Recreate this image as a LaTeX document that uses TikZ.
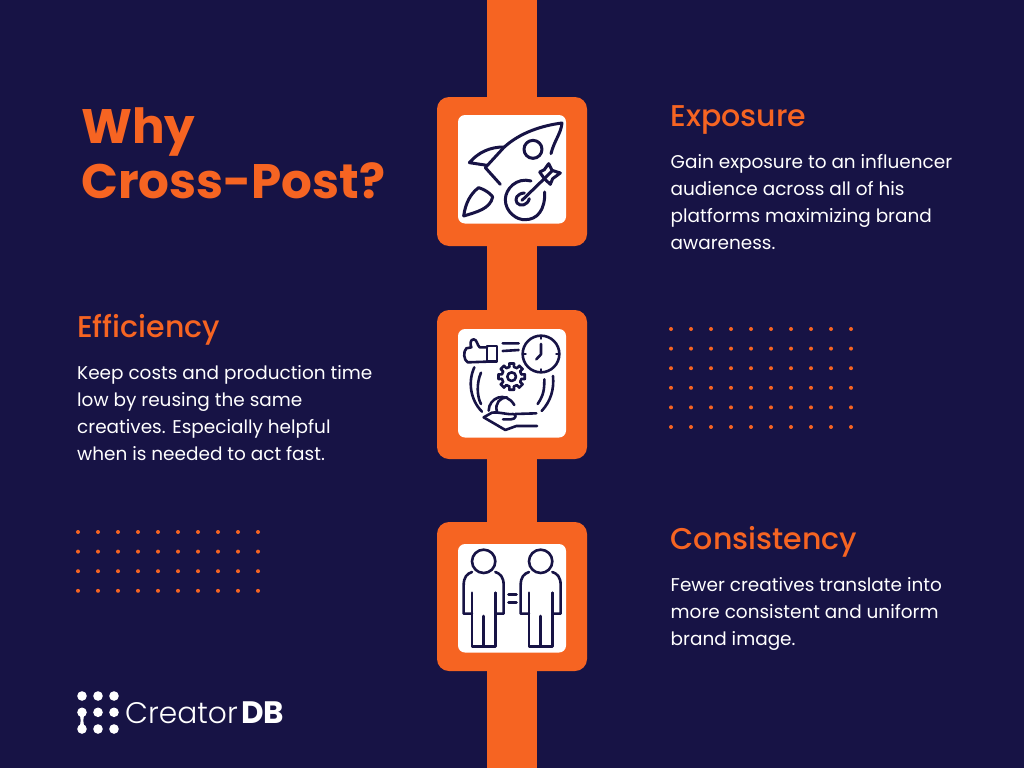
\documentclass[tikz,border=0pt]{standalone}
\usepackage{fontspec}
\usetikzlibrary{calc}
\setmainfont{Poppins}
\newfontfamily\logolight{Poppins Light}
\newfontfamily\headfont{Poppins Medium}
\definecolor{navy}{HTML}{171345}
\definecolor{brand}{HTML}{F66422}
\tikzset{
  x=1pt,y=-1pt,
  panel/.style={fill=brand,rounded corners=12pt},
  tile/.style={fill=white,rounded corners=7pt},
  icon/.style={draw=navy,line width=3pt,line cap=round,line join=round},
  heading/.style={anchor=base west,inner sep=0pt,text=brand,font=\headfont\fontsize{30}{32}\selectfont},
  body/.style={anchor=north west,inner sep=0pt,text=white,align=left,font=\fontsize{18.45}{27}\selectfont},
  title/.style={anchor=north west,inner sep=0pt,text=brand,align=left,font=\bfseries\fontsize{48.4}{55}\selectfont},
}
\newcommand{\dotgrid}[3]{% x0,y0,rows
  \foreach \r in {1,...,#3}{\foreach \c in {0,...,9}{
    \fill[brand] ({#1+\c*20},{#2+(\r-1)*19.6}) circle (2);}}}
\begin{document}
\begin{tikzpicture}
\useasboundingbox (0,0) rectangle (1024,768);
\fill[navy] (0,0) rectangle (1024,768);
\fill[brand] (487,0) rectangle (537,768);
\foreach \y/\t in {97/115,310/329,522/544}{
  \fill[panel] (437,\y) rectangle (587,\y+149);
  \fill[tile] (458,\t) rectangle (566,\t+108.5);
}
% rocket
\begin{scope}[shift={(437,97)},x=0.3333pt,y=-0.3333pt]
  \draw[icon] (342,170) .. controls (352,130) and (372,110) .. (375,78) .. controls (320,85) and (250,105) .. (200,152) -- (145,212) -- (190,262);
  \draw[icon] (200,150) .. controls (160,150) and (125,165) .. (97,197) -- (150,205);
  \draw[icon] (288,157) circle (27);
  \draw[icon] (80,357) .. controls (85,320) and (100,290) .. (125,272) .. controls (150,280) and (165,295) .. (167,300) .. controls (160,335) and (120,345) .. (80,357);
  \draw[icon] (282,252) .. controls (240,240) and (205,275) .. (205,308) .. controls (205,345) and (240,370) .. (265,368) .. controls (300,368) and (325,340) .. (323,285);
  \draw[icon] (262,288) .. controls (240,290) and (232,305) .. (240,318) .. controls (250,330) and (272,325) .. (277,305);
  \draw[icon] (255,310) -- (322,245);
  \draw[icon] (308,225) -- (322,245) -- (340,262) -- (347,245) -- (370,228) -- (345,220) -- (335,200) -- (322,218) -- (308,225);
  \draw[icon] (322,245) -- (345,222);
\end{scope}
% efficiency
\begin{scope}[shift={(437,310)},x=0.3333pt,y=-0.3333pt,icon/.append style={line width=2.6pt}]
  \draw[icon] (150,108) -- (180,108) -- (180,155) -- (150,155) -- cycle;
  \draw[icon] (150,112) -- (128,112) .. controls (120,105) and (120,88) .. (110,88) .. controls (98,88) and (100,105) .. (103,112) -- (88,115) .. controls (78,125) and (80,150) .. (92,157) -- (150,155);
  \draw[icon] (197,100) -- (245,100) (197,123) -- (245,120);
  \draw[icon] (312,132) circle (55);
  \draw[icon] (312,102) -- (312,133) -- (298,148);
  \draw[icon] (312,78) -- (312,86) (312,178) -- (312,186) (258,132) -- (266,132) (358,132) -- (366,132);
  \foreach \a in {0,45,...,315}{
    \draw[icon] ($(224,200)+(\a-13:30)$) -- ($(224,200)+(\a-10:40)$) -- ($(224,200)+(\a+10:40)$) -- ($(224,200)+(\a+13:30)$) -- ($(224,200)+(\a+32:30)$);
  }
  \draw[icon] (224,200) circle (13);
  \draw[icon] (112,172) .. controls (92,215) and (100,270) .. (135,305);
  \draw[icon] (132,188) .. controls (118,220) and (120,260) .. (132,282);
  \draw[icon] (322,208) .. controls (322,240) and (320,255) .. (302,282);
  \draw[icon] (348,198) .. controls (352,240) and (340,275) .. (314,303);
  \draw[icon] (155,302) .. controls (155,265) and (205,240) .. (232,285);
  \draw[icon] (180,305) .. controls (172,280) and (190,262) .. (210,262);
  \draw[icon] (140,322) -- (165,308) .. controls (185,305) and (215,315) .. (228,312) .. controls (240,312) and (238,328) .. (222,328) -- (198,328);
  \draw[icon] (235,312) -- (298,310);
  \draw[icon] (140,322) -- (205,360) -- (238,348) -- (300,348);
\end{scope}
% consistency
\begin{scope}[shift={(437,522)},x=0.3333pt,y=-0.3333pt]
  \foreach \d in {0,171}{
    \begin{scope}[xshift=\d*0.3333pt,icon/.append style={line width=2.6pt}]
      \draw[icon] (140,118) circle (35);
      \draw[icon] (105,150) .. controls (90,155) and (80,165) .. (80,190) -- (80,275) -- (105,275);
      \draw[icon] (175,150) .. controls (190,155) and (200,165) .. (200,190) -- (200,275) -- (175,275);
      \draw[icon] (105,212) -- (105,373) -- (175,373) -- (175,212);
      \draw[icon] (140,282) -- (140,373);
    \end{scope}
  }
  \draw[icon] (215,216) -- (238,216) (215,241) -- (238,241);
\end{scope}
% dots
\dotgrid{671}{329}{6}
\dotgrid{78}{532}{4}
% text
\node[title] (ttl) at (81,107) {Why\\Cross-Post?};
\node[heading] (h1) at (670.5,126) {Exposure};
\node[body] (b1) at (670.5,154.5) {Gain exposure to an influencer\\audience across all of his\\platforms maximizing brand\\awareness.};
\node[heading] (h2) at (77,337) {Efficiency};
\node[body] (b2) at (77,365.5) {Keep costs and production time\\low by reusing the same\\creatives. Especially helpful\\when is needed to act fast.};
\node[heading] (h3) at (670.5,549) {Consistency};
\node[body] (b3) at (670.5,577.5) {Fewer creatives translate into\\more consistent and uniform\\brand image.};
% logo
\foreach \cx in {82,98,114}{\foreach \cy in {696,712.3,729}{
  \fill[white] (\cx,\cy) circle (4.8);}}
\fill[white] (79.5,714) -- (84.5,714) .. controls (83,719) and (83,722) .. (84.5,727) -- (79.5,727) .. controls (81,722) and (81,719) .. (79.5,714) -- cycle;
\node[anchor=base west,inner sep=0pt,text=white,font=\logolight\fontsize{29.7}{36}\selectfont] (lg1) at (125,723) {Creator};
\node[anchor=base west,inner sep=0pt,text=white,font=\bfseries\fontsize{31}{36}\selectfont] (lg2) at (241,723) {DB};
\end{tikzpicture}
\end{document}
